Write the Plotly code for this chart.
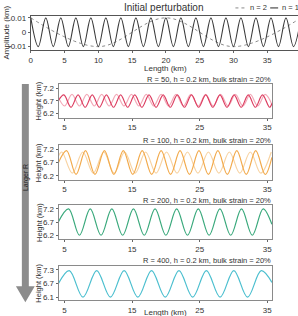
import plotly.graph_objects as go

W, H = 298, 316

# ---------------- data ----------------
# Initial perturbation, n = 18 (extrema positions, km / amplitude km)
pert18_x = [0, 1.11, 2.22, 3.33, 4.44, 5.56, 6.67, 7.78, 8.89, 10.0, 11.11, 12.22, 13.33,
            14.44, 15.56, 16.67, 17.78, 18.89, 20.0, 21.11, 22.22, 23.33, 24.44, 25.56,
            26.67, 27.78, 28.89, 30.0, 31.11, 32.22, 33.33, 34.44, 35.56, 36.67, 37.78,
            38.89, 40.0]
pert18_y = [0.01, -0.01] * 18 + [0.01]
# Initial perturbation, n = 2
pert2_x = [0, 10, 20, 30, 40]
pert2_y = [0.01, -0.01, 0.01, -0.01, 0.01]

# R = 50 panel
r50a_x = [4.1, 4.9, 5.95, 7.0, 8.05, 9.1, 10.15, 11.2, 12.25, 13.3, 14.35, 15.4, 16.45, 17.5,
          18.55, 19.6, 20.65, 21.7, 22.75, 23.8, 24.85, 25.9, 26.95, 28.0, 29.05, 30.1,
          31.15, 32.2, 33.25, 34.3, 35.35, 35.7]
r50a_y = [6.72, 6.93, 6.45, 6.93, 6.45, 6.93, 6.45, 6.93, 6.45, 6.93, 6.45, 6.93, 6.45, 6.93,
          6.45, 6.93, 6.45, 6.93, 6.45, 6.93, 6.45, 6.93, 6.45, 6.93, 6.45, 6.93, 6.45, 6.93,
          6.45, 6.93, 6.45, 6.6]
r50b_x = [3.9, 5.0, 6.1, 7.2, 8.3, 9.4, 10.5, 11.6, 12.7, 13.8, 14.9, 16.0, 17.1, 18.2, 19.3,
          20.4, 21.5, 22.6, 23.7, 24.8, 25.9, 27.0, 28.1, 29.2, 30.3, 31.4, 32.5, 33.6, 34.7,
          35.8]
r50b_y = [6.95, 6.5, 6.95, 6.5, 6.95, 6.5, 6.95, 6.5, 6.95, 6.5, 6.95, 6.5, 6.95, 6.5, 6.95,
          6.5, 6.95, 6.5, 6.95, 6.5, 6.95, 6.5, 6.95, 6.5, 6.95, 6.5, 6.95, 6.5, 6.95, 6.5]

# R = 100 panel
r100a_x = [4.1, 5.3, 6.7, 8.1, 9.5, 10.9, 12.3, 13.7, 15.1, 16.5, 17.9, 19.3, 20.7, 22.1,
           23.5, 24.9, 26.3, 27.7, 29.1, 30.5, 31.9, 33.3, 34.7, 35.7]
r100a_y = [6.7, 7.15, 6.25, 7.15, 6.25, 7.15, 6.25, 7.15, 6.25, 7.15, 6.25, 7.15, 6.25, 7.15,
           6.25, 7.15, 6.25, 7.15, 6.25, 7.15, 6.25, 7.15, 6.25, 6.9]
r100b_x = [4.1, 4.6, 6.15, 7.7, 9.25, 10.8, 12.35, 13.9, 15.45, 17.0, 18.55, 20.1, 21.65,
           23.2, 24.75, 26.3, 27.85, 29.4, 30.95, 32.5, 34.05, 35.6]
r100b_y = [6.95, 7.1, 6.3, 7.1, 6.3, 7.1, 6.3, 7.1, 6.3, 7.1, 6.3, 7.1, 6.3, 7.1, 6.3, 7.1,
           6.3, 7.1, 6.3, 7.1, 6.3, 7.1]

# R = 200 panel
r200_x = [4.1, 5.6, 7.2, 8.8, 10.4, 12.0, 13.6, 15.2, 16.8, 18.4, 20.0, 21.6, 23.2, 24.8,
          26.4, 28.0, 29.6, 31.2, 32.8, 34.4, 35.7]
r200_y = [6.72, 7.2, 6.21, 7.2, 6.21, 7.2, 6.21, 7.2, 6.21, 7.2, 6.21, 7.2, 6.21, 7.2, 6.21,
          7.2, 6.21, 7.2, 6.21, 7.2, 6.62]

# R = 400 panel
r400_x = [4.1, 5.7, 7.73, 9.76, 11.79, 13.82, 15.85, 17.88, 19.91, 21.94, 23.97, 26.0,
          28.03, 30.06, 32.09, 34.12, 35.7]
r400_y = [6.7, 7.26, 6.1, 7.26, 6.1, 7.26, 6.1, 7.26, 6.1, 7.26, 6.1, 7.26, 6.1, 7.26,
          6.1, 7.26, 6.75]

panel_titles = ["R = 50, h = 0.2 km, bulk strain = 20%",
                "R = 100, h = 0.2 km, bulk strain = 20%",
                "R = 200, h = 0.2 km, bulk strain = 20%",
                "R = 400, h = 0.2 km, bulk strain = 20%"]
top_xticks = [0, 5, 10, 15, 20, 25, 30, 35]
top_yticks = [0.01, 0, -0.01]
top_yticklabels = ["0.01", "0", "-0.01"]
low_xticks = [5, 15, 25, 35]
low_yticks = [[7.2, 6.7, 6.2], [7.2, 6.7, 6.2], [7.2, 6.7, 6.2], [7.3, 6.7, 6.1]]

# ---------------- layout helpers ----------------
FONT = "Liberation Sans, Arial, sans-serif"
TXT = "#333333"


def px_x(p):
    return p / W


def px_y(p):
    return 1 - p / H


fig = go.Figure()

# top panel
fig.add_trace(go.Scatter(x=pert2_x, y=pert2_y, mode="lines", xaxis="x", yaxis="y",
                         line=dict(color="#8a8a8a", width=1, dash="dot", shape="spline"),
                         showlegend=False))
fig.add_trace(go.Scatter(x=pert18_x, y=pert18_y, mode="lines", xaxis="x", yaxis="y",
                         line=dict(color="#3a3a3a", width=1.1, shape="spline"),
                         showlegend=False))

series = [
    [(r50b_x, r50b_y, "#f3a9b8"), (r50a_x, r50a_y, "#dc3d60")],
    [(r100b_x, r100b_y, "#f8d3a2"), (r100a_x, r100a_y, "#f2aa4c")],
    [(r200_x, r200_y, "#3aa97c")],
    [(r400_x, r400_y, "#4cbfcf")],
]

panel_px = [(83, 117), (145, 180), (206, 240), (267, 302)]
yranges = [[6.05, 7.36], [6.05, 7.36], [6.07, 7.33], [5.97, 7.48]]

for i, lines in enumerate(series):
    xa = "x%d" % (i + 2)
    ya = "y%d" % (i + 2)
    for (xs, ys, c) in lines:
        fig.add_trace(go.Scatter(x=xs, y=ys, mode="lines", xaxis=xa, yaxis=ya,
                                 line=dict(color=c, width=1.2, shape="spline"),
                                 showlegend=False))

axis_common = dict(showgrid=False, zeroline=False, ticks="outside", ticklen=2,
                   tickwidth=1, tickcolor="#666666",
                   tickfont=dict(family=FONT, size=8, color=TXT))

layout = dict(
    width=W, height=H, margin=dict(l=0, r=0, t=0, b=0),
    paper_bgcolor="white", plot_bgcolor="white", showlegend=False,
    font=dict(family=FONT, color=TXT),
)

layout["xaxis"] = dict(axis_common, domain=[px_x(29), 1.0], range=[0, 39.56],
                       tickvals=top_xticks, showline=True, linecolor="#555555",
                       linewidth=1, mirror=True, anchor="y")
layout["yaxis"] = dict(axis_common, domain=[px_y(49), px_y(14)], range=[-0.0126, 0.0114],
                       tickvals=top_yticks, ticktext=top_yticklabels, showline=True,
                       linecolor="#555555", linewidth=1, anchor="x")

for i, (t, b) in enumerate(panel_px):
    n = i + 2
    layout["xaxis%d" % n] = dict(axis_common, domain=[px_x(57), px_x(272)],
                                 range=[4.12, 35.74], tickvals=low_xticks, showline=True,
                                 linecolor="#8a8a8a", linewidth=1, mirror=True,
                                 anchor="y%d" % n)
    layout["yaxis%d" % n] = dict(axis_common, domain=[px_y(b), px_y(t)], range=yranges[i],
                                 tickvals=low_yticks[i], showline=True,
                                 linecolor="#8a8a8a", linewidth=1, mirror=True,
                                 anchor="x%d" % n)

fig.update_layout(**layout)

ann = []
ann.append(dict(text="Initial perturbation", x=px_x(163), y=px_y(6), xref="paper",
                yref="paper", showarrow=False, font=dict(family=FONT, size=10, color=TXT),
                xanchor="center", yanchor="middle"))
ann.append(dict(text="Amplitude (km)", x=px_x(5), y=px_y(31), xref="paper", yref="paper",
                showarrow=False, textangle=-90, font=dict(family=FONT, size=8, color=TXT),
                xanchor="center", yanchor="middle"))
ann.append(dict(text="Length (km)", x=px_x(165), y=px_y(67), xref="paper", yref="paper",
                showarrow=False, font=dict(family=FONT, size=8, color=TXT),
                xanchor="center", yanchor="middle"))
ann.append(dict(text="Length (km)", x=px_x(165), y=px_y(314), xref="paper", yref="paper",
                showarrow=False, font=dict(family=FONT, size=8, color=TXT),
                xanchor="center", yanchor="middle"))
# legend
ann.append(dict(text="n = 2", x=px_x(248), y=px_y(6), xref="paper", yref="paper",
                showarrow=False, font=dict(family=FONT, size=7.5, color=TXT),
                xanchor="left", yanchor="middle"))
ann.append(dict(text="n = 18", x=px_x(280), y=px_y(6), xref="paper", yref="paper",
                showarrow=False, font=dict(family=FONT, size=7.5, color=TXT),
                xanchor="left", yanchor="middle"))

for i, (t, b) in enumerate(panel_px):
    ann.append(dict(text=panel_titles[i], x=px_x(273), y=px_y(t - 5), xref="paper",
                    yref="paper", showarrow=False,
                    font=dict(family=FONT, size=7.5, color=TXT),
                    xanchor="right", yanchor="middle"))
    ann.append(dict(text="Height (km)", x=px_x(37), y=px_y((t + b) / 2), xref="paper",
                    yref="paper", showarrow=False, textangle=-90,
                    font=dict(family=FONT, size=7.5, color=TXT),
                    xanchor="center", yanchor="middle"))

ann.append(dict(text="Larger R", x=px_x(23.5), y=px_y(178), xref="paper", yref="paper",
                showarrow=False, textangle=-90, font=dict(family=FONT, size=7, color="#222222"),
                xanchor="center", yanchor="middle"))

shapes = []
# legend line samples
shapes.append(dict(type="line", xref="paper", yref="paper", x0=px_x(235), x1=px_x(246),
                   y0=px_y(6), y1=px_y(6), line=dict(color="#8a8a8a", width=1, dash="dot")))
shapes.append(dict(type="line", xref="paper", yref="paper", x0=px_x(270), x1=px_x(278),
                   y0=px_y(6), y1=px_y(6), line=dict(color="#3a3a3a", width=1.1)))
# big arrow
arrow_pts = [(20, 83), (27, 83), (27, 288), (33, 288), (23.5, 304), (14, 288), (20, 288)]
path = "M " + " L ".join("%.4f,%.4f" % (px_x(a), px_y(b)) for a, b in arrow_pts) + " Z"
shapes.append(dict(type="path", xref="paper", yref="paper", path=path,
                   fillcolor="#8c8c8c", line=dict(width=0), layer="below"))

fig.update_layout(annotations=ann, shapes=shapes)

fig.write_html("out.html")
